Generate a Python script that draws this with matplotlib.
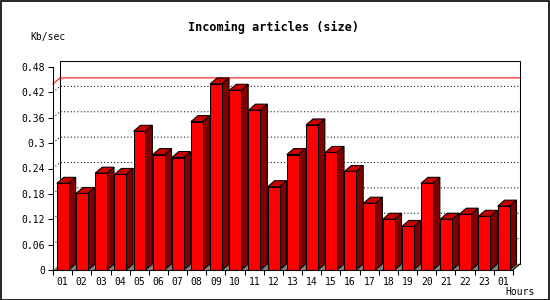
import matplotlib
matplotlib.use("Agg")
import matplotlib.pyplot as plt
from matplotlib.patches import Polygon, Rectangle
from matplotlib.ticker import FixedLocator, NullFormatter
import numpy as np

# incoming article volume per hour
hours = ['01', '02', '03', '04', '05', '06', '07', '08', '09', '10', '11', '12',
         '13', '14', '15', '16', '17', '18', '19', '20', '21', '22', '23', '01']
kbps = [0.205, 0.181, 0.229, 0.226, 0.328, 0.273, 0.266, 0.351, 0.440, 0.425, 0.378, 0.197,
        0.273, 0.343, 0.278, 0.233, 0.158, 0.120, 0.103, 0.205, 0.120, 0.132, 0.127, 0.151]
y_ticks = [0, 0.06, 0.12, 0.18, 0.24, 0.3, 0.36, 0.42, 0.48]

FRONT = '#ff0000'
TOP = '#c80000'
SIDE = '#800000'
FLOOR = '#808080'
MONO = 'DejaVu Sans Mono'

fig = plt.figure(figsize=(5.5, 3), dpi=100)
ax = fig.add_axes([53 / 550, 30 / 300, 460 / 550, 203 / 300])
n = len(kbps)
ymax = y_ticks[-1]
ax.set_xlim(0, n)
ax.set_ylim(0, ymax)

# depth offset of the fake 3d look (7px right, 6px up)
dx = 7 / (460 / n)
dy = 6 / (203 / ymax)

lw = 0.75
# back wall
ax.add_patch(Rectangle((dx, dy), n, ymax, facecolor='white', edgecolor='black', lw=lw,
                       clip_on=False, zorder=1))
# dotted grid on back wall
for v in y_ticks[1:-1]:
    ax.plot([0, dx, n + dx], [v, v + dy, v + dy], color='black', lw=lw,
            dashes=(1, 2.2), clip_on=False, zorder=2)
# max line
m = max(kbps)
ax.plot([0, dx, n + dx], [m, m + dy, m + dy], color='red', lw=lw, clip_on=False, zorder=2)
# floor
ax.add_patch(Polygon([(0, 0), (n, 0), (n + dx, dy), (dx, dy)], closed=True,
                     facecolor=FLOOR, edgecolor='none', clip_on=False, zorder=2))
ax.plot([n, n + dx], [0, dy], color='black', lw=lw, clip_on=False, zorder=6)

# bars
x0 = np.arange(n) + 0.2
w = 0.62
ax.bar(x0, kbps, width=w, align='edge', color=FRONT, edgecolor='black', lw=lw, zorder=4)
for x, v in zip(x0, kbps):
    xr = x + w
    ax.add_patch(Polygon([(xr, 0), (xr + dx, dy), (xr + dx, v + dy), (xr, v)], closed=True,
                         facecolor=SIDE, edgecolor='black', lw=lw, clip_on=False, zorder=3))
    ax.add_patch(Polygon([(x, v), (xr, v), (xr + dx, v + dy), (x + dx, v + dy)], closed=True,
                         facecolor=TOP, edgecolor='black', lw=lw, clip_on=False, zorder=3))

# axes and ticks
for s in ['top', 'right']:
    ax.spines[s].set_visible(False)
for s in ['left', 'bottom']:
    ax.spines[s].set_linewidth(lw)
    ax.spines[s].set_zorder(6)
ax.set_facecolor('none')
ax.set_yticks(y_ticks)
ax.set_yticklabels(['%g' % v for v in y_ticks], fontsize=7, family=MONO)
ax.xaxis.set_major_locator(FixedLocator(np.arange(n + 1)))
ax.xaxis.set_major_formatter(NullFormatter())
ax.set_xticks(np.arange(n) + 0.5, minor=True)
ax.set_xticklabels(hours, minor=True, fontsize=7, family=MONO)
ax.tick_params(axis='both', which='major', length=3.5, width=lw, direction='out')
ax.tick_params(axis='y', pad=2)
ax.tick_params(axis='x', which='minor', length=0, pad=5)

fig.text(273 / 550, 1 - 27 / 300, 'Incoming articles (size)', ha='center', va='center',
         fontsize=8.5, fontweight='bold', family=MONO)
fig.text(30 / 550, 1 - 37 / 300, 'Kb/sec', ha='left', va='center', fontsize=7, family=MONO)
fig.text(505 / 550, 1 - 292 / 300, 'Hours', ha='left', va='center', fontsize=7, family=MONO)

# image border
fig.add_artist(Rectangle((0.5 / 550, 0.5 / 300), 548.5 / 550, 298.5 / 300, transform=fig.transFigure,
                         fill=False, edgecolor='black', lw=1.2))

fig.savefig('out.png', dpi=100)
